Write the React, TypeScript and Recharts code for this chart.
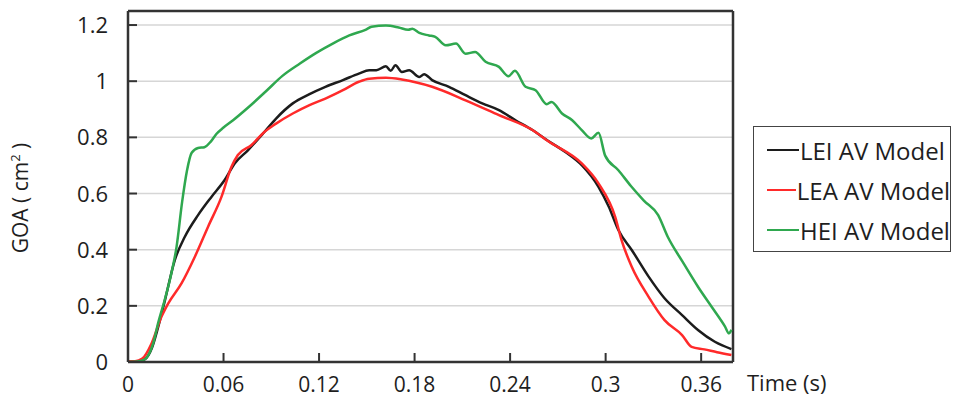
import { LineChart, Line, XAxis, YAxis, CartesianGrid, ReferenceLine, Label } from 'recharts';

// Time (s) and GOA (cm²) samples for each valve model
const leiTime = [0, 0.006, 0.0106, 0.015, 0.019, 0.023, 0.0294, 0.0357, 0.044, 0.0524, 0.0607, 0.067, 0.0753, 0.0858, 0.093, 0.1035, 0.114, 0.124, 0.135, 0.145, 0.1515, 0.156, 0.162, 0.165, 0.168, 0.172, 0.1766, 0.183, 0.186, 0.191, 0.2016, 0.212, 0.2225, 0.233, 0.2434, 0.254, 0.264, 0.2747, 0.285, 0.2955, 0.302, 0.308, 0.3164, 0.327, 0.337, 0.348, 0.358, 0.3686, 0.379];
const leiGoa = [0, 0.002, 0.01, 0.05, 0.126, 0.215, 0.363, 0.446, 0.523, 0.588, 0.648, 0.707, 0.754, 0.82, 0.867, 0.921, 0.954, 0.98, 1.004, 1.027, 1.039, 1.039, 1.053, 1.037, 1.057, 1.033, 1.039, 1.015, 1.025, 1.004, 0.98, 0.95, 0.921, 0.897, 0.861, 0.826, 0.787, 0.748, 0.701, 0.624, 0.553, 0.47, 0.399, 0.304, 0.227, 0.167, 0.114, 0.072, 0.046];

const leaTime = [0, 0.0044, 0.009, 0.0148, 0.021, 0.0253, 0.0336, 0.042, 0.0503, 0.0587, 0.065, 0.069, 0.0774, 0.0858, 0.093, 0.1035, 0.114, 0.124, 0.135, 0.145, 0.1515, 0.162, 0.172, 0.191, 0.212, 0.233, 0.254, 0.264, 0.285, 0.2955, 0.306, 0.31, 0.3164, 0.327, 0.337, 0.348, 0.354, 0.362, 0.37, 0.379];
const leaGoa = [0.003, 0.003, 0.012, 0.066, 0.161, 0.209, 0.28, 0.375, 0.482, 0.588, 0.695, 0.737, 0.772, 0.82, 0.849, 0.885, 0.915, 0.938, 0.968, 0.998, 1.009, 1.012, 1.006, 0.98, 0.932, 0.879, 0.826, 0.786, 0.707, 0.636, 0.517, 0.434, 0.339, 0.232, 0.149, 0.096, 0.054, 0.045, 0.035, 0.025];

const heiTime = [0, 0.006, 0.0106, 0.016, 0.019, 0.023, 0.027, 0.0305, 0.034, 0.037, 0.04, 0.044, 0.048, 0.052, 0.0555, 0.06, 0.066, 0.076, 0.087, 0.097, 0.108, 0.118, 0.1286, 0.139, 0.1495, 0.153, 0.162, 0.17, 0.176, 0.1786, 0.183, 0.189, 0.193, 0.1996, 0.206, 0.212, 0.218, 0.2246, 0.233, 0.239, 0.243, 0.2497, 0.256, 0.263, 0.266, 0.2726, 0.279, 0.285, 0.291, 0.2955, 0.2997, 0.308, 0.316, 0.324, 0.333, 0.339, 0.348, 0.358, 0.368, 0.375, 0.3775, 0.379];
const heiGoa = [0, 0.002, 0.01, 0.07, 0.14, 0.22, 0.31, 0.41, 0.57, 0.68, 0.745, 0.762, 0.765, 0.785, 0.812, 0.835, 0.861, 0.909, 0.966, 1.019, 1.063, 1.1, 1.134, 1.163, 1.184, 1.194, 1.198, 1.191, 1.183, 1.187, 1.172, 1.163, 1.158, 1.128, 1.134, 1.098, 1.104, 1.069, 1.051, 1.018, 1.037, 0.98, 0.968, 0.918, 0.926, 0.885, 0.861, 0.826, 0.796, 0.816, 0.735, 0.683, 0.626, 0.575, 0.523, 0.446, 0.36, 0.268, 0.185, 0.126, 0.102, 0.115];

const timeTicks = [0, 0.06, 0.12, 0.18, 0.24, 0.3, 0.36];
const goaTicks = [0, 0.2, 0.4, 0.6, 0.8, 1, 1.2];

const toPoints = (time: number[], goa: number[]) => time.map((t, i) => ({ t, v: goa[i] }));

const series = [
  { name: 'LEI AV Model', color: '#1c1c1c', data: toPoints(leiTime, leiGoa) },
  { name: 'LEA AV Model', color: '#ff2a2a', data: toPoints(leaTime, leaGoa) },
  { name: 'HEI AV Model', color: '#2fa84f', data: toPoints(heiTime, heiGoa) },
];

const FONT = '"Open Sans", "Liberation Sans", sans-serif';
const TEXT = '#1e1e1e';
const AXIS = '#333';

// ticks point into the plot, labels sit outside
const XTick = ({ x, y, payload }: any) => (
  <g>
    <line x1={x} y1={y} x2={x} y2={y - 9} stroke={AXIS} strokeWidth={2} />
    <text x={x} y={y + 30} textAnchor="middle" fontSize={21} fill={TEXT} fontFamily={FONT}>
      {payload.value}
    </text>
  </g>
);

const YTick = ({ x, y, payload }: any) => (
  <g>
    <line x1={x} y1={y} x2={x + 9} y2={y} stroke={AXIS} strokeWidth={2} />
    <text x={x - 20} y={y + 8} textAnchor="end" fontSize={22} fill={TEXT} fontFamily={FONT}>
      {payload.value}
    </text>
  </g>
);

const LegendBox = () => (
  <div
    style={{
      position: 'absolute',
      left: 753,
      top: 126,
      border: '1.5px solid #444',
      width: 198,
      height: 126,
      boxSizing: 'border-box',
      padding: '3px 0 0 13px',
      fontFamily: FONT,
      fontSize: 24,
      color: TEXT,
      background: '#fff',
      whiteSpace: 'nowrap',
    }}
  >
    {series.map((s) => (
      <div key={s.name} style={{ display: 'flex', alignItems: 'center', height: 40 }}>
        <span style={{ display: 'inline-block', width: 32, height: 2, background: s.color, marginRight: 1 }} />
        {s.name}
      </div>
    ))}
  </div>
);

export default function App() {
  return (
    <div style={{ position: 'absolute', left: 0, top: 0, width: 961, height: 410, background: '#fff' }}>
      <LineChart width={961} height={410} margin={{ top: 11, right: 228, bottom: 18, left: 68 }}>
        <CartesianGrid vertical={false} stroke="#d6d6d6" strokeWidth={1.5} />
        <XAxis
          type="number"
          dataKey="t"
          domain={[0, 0.38]}
          ticks={timeTicks}
          allowDataOverflow
          height={30}
          stroke={AXIS}
          strokeWidth={2.5}
          tickLine={false}
          tickSize={0}
          tickMargin={0}
          tick={<XTick />}
        >
          <Label
            content={() => (
              <text x={747} y={391} fontSize={22} fill={TEXT} fontFamily={FONT}>
                Time (s)
              </text>
            )}
          />
        </XAxis>
        <YAxis
          type="number"
          dataKey="v"
          domain={[0, 1.25]}
          ticks={goaTicks}
          allowDataOverflow
          width={60}
          stroke={AXIS}
          strokeWidth={2.5}
          tickLine={false}
          tickSize={0}
          tickMargin={0}
          tick={<YTick />}
        >
          <Label
            content={() => (
              <text
                x={28}
                y={198}
                transform="rotate(-90 28 198)"
                textAnchor="middle"
                fontSize={21}
                fill={TEXT}
                fontFamily={FONT}
              >
                GOA ( cm<tspan dy={-8} fontSize={13}>2</tspan>
                <tspan dy={8}> )</tspan>
              </text>
            )}
          />
        </YAxis>
        <ReferenceLine y={1.25} stroke={AXIS} strokeWidth={2.5} />
        <ReferenceLine x={0.38} stroke={AXIS} strokeWidth={2.5} />
        {series.map((s) => (
          <Line
            key={s.name}
            data={s.data}
            dataKey="v"
            name={s.name}
            type="monotone"
            stroke={s.color}
            strokeWidth={2.5}
            dot={false}
            isAnimationActive={false}
          />
        ))}
      </LineChart>
      <LegendBox />
    </div>
  );
}
